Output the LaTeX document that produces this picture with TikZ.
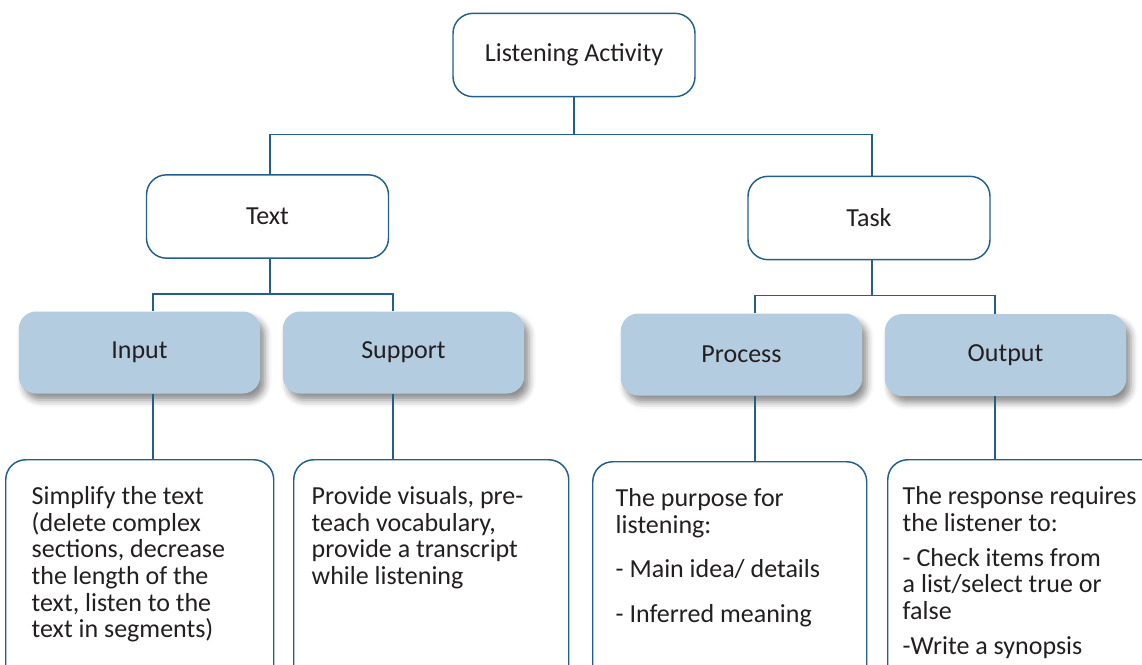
\documentclass[tikz,border=0pt]{standalone}
\usepackage{fontspec}
\setmainfont{Carlito}
\usetikzlibrary{positioning}
\usetikzlibrary{calc}
\usetikzlibrary{shadows.blur}

\definecolor{edgeblue}{RGB}{33,96,140}
\definecolor{boxblue}{RGB}{180,204,224}
\definecolor{ink}{RGB}{35,31,32}

\begin{document}
\begin{tikzpicture}[x=0.75pt, y=-0.75pt,
    every node/.style={font=\fontsize{19.5pt}{20pt}\selectfont, text=ink},
    topic/.style={draw=edgeblue, line width=1.1pt, fill=white, rounded corners=15pt,
      minimum width=181.5pt, minimum height=62.5pt, inner sep=0pt},
    part/.style={fill=boxblue, rounded corners=13pt, minimum width=181pt, minimum height=61.5pt,
      inner sep=0pt, blur shadow={shadow xshift=3.5pt, shadow yshift=-5pt,
      shadow blur radius=5pt, shadow opacity=45}},
    detail/.style={draw=edgeblue, line width=1.1pt, fill=white, rounded corners=15pt,
      anchor=north west, inner ysep=20pt, align=left},
    link/.style={draw=edgeblue, line width=1.1pt}]

  \useasboundingbox (0,0) rectangle (1142,664);
  \clip (0,0) rectangle (1142,664);

  \def\notedepth{200pt} % the notes run past the bottom edge

  % top levels
  \node[topic] (act) at (574,55) {Listening Activity};
  \node[topic] (text) at (267.5,216.5) {Text};
  \node[topic] (task) at (869,218) {Task};

  % notes under each part
  \node[detail, inner xsep=19.5pt] (inputnote) at (5,459)
    {\parbox[t][\notedepth][t]{162pt}{Simplify the text\\ (delete complex\\ sections, decrease\\
      the length of the\\ text, listen to the\\ text in segments)}};
  \node[detail, inner xsep=13.5pt] (supportnote) at (293,459)
    {\parbox[t][\notedepth][t]{179.25pt}{Provide visuals, pre-\\ teach vocabulary,\\
      provide a transcript\\ while listening}};
  \node[detail, inner xsep=17.25pt] (processnote) at (592,461)
    {\parbox[t][\notedepth][t]{171pt}{The purpose for\\ listening:\\[13.5pt]
      - Main idea/ details\\[13.5pt] - Inferred meaning}};
  \node[detail, inner xsep=11.25pt] (outputnote) at (887,459)
    {\parbox[t][\notedepth][t]{191.25pt}{The response requires\\ the listener to:\\[6.4pt]
      - Check items from\\ a list/select true or\\ false\\[6.4pt] -Write a synopsis}};

  % connectors
  \draw[link] (act.south) -- ++(0,37) coordinate (hub1);
  \draw[link] ($(text.north)+(2.5,0)$) |- (hub1) -| ($(task.north)+(3,0)$);
  \draw[link] ($(text.south)+(2.5,0)$) -- ++(0,35) coordinate (hub2);
  \draw[link] ($(task.south)+(3,0)$) -- ++(0,35) coordinate (hub3);

  % parts
  \node[part] (input) at (139.5,352.5) {Input};
  \node[part] (support) at (403.5,352.5) {Support};
  \node[part] (process) at (741.5,354.5) {Process};
  \node[part] (output) at (1005.5,355) {Output};

  \draw[link] ($(input.north)+(13.5,0)$) |- (hub2) -| ($(support.north)+(-10.5,0)$);
  \draw[link] ($(process.north)+(13.5,0)$) |- (hub3) -| ($(output.north)+(-10.5,0)$);

  \foreach \a/\b/\s in {input/inputnote/13.5, support/supportnote/-10.5,
      process/processnote/13.5, output/outputnote/-10.5} {
    \coordinate (\a-foot) at ($(\a.south)+(\s,0)$);
    \draw[link] (\a-foot) -- (\a-foot |- \b.north);
  }
\end{tikzpicture}
\end{document}
